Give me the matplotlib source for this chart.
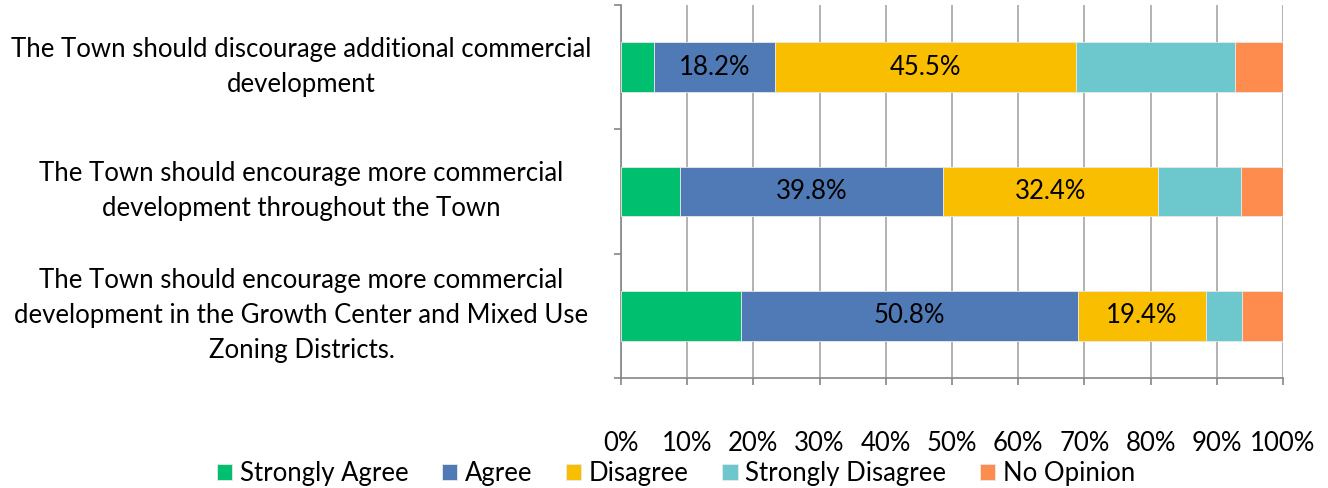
import matplotlib
matplotlib.use("Agg")
import matplotlib.pyplot as plt
from matplotlib.ticker import FixedLocator, PercentFormatter
import numpy as np

plt.rcParams['font.family'] = ['Lato', 'DejaVu Sans']

statements = [
    "The Town should discourage additional commercial\ndevelopment",
    "The Town should encourage more commercial\ndevelopment throughout the Town",
    "The Town should encourage more commercial\ndevelopment in the Growth Center and Mixed Use\nZoning Districts.",
]
series_names = ["Strongly Agree", "Agree", "Disagree", "Strongly Disagree", "No Opinion"]
strongly_agree = [5.0, 8.9, 18.2]
agree = [18.2, 39.8, 50.8]
disagree = [45.5, 32.4, 19.4]
strongly_disagree = [24.1, 12.6, 5.4]
no_opinion = [7.2, 6.3, 6.2]
colors = ["#00BF6F", "#4F7AB5", "#F9BE00", "#6CC8CC", "#FF8C4F"]
labelled = {"Agree", "Disagree"}

values = [strongly_agree, agree, disagree, strongly_disagree, no_opinion]
FS = 18.5

fig = plt.figure(figsize=(13.28, 4.88), dpi=100)
ax = fig.add_axes([0.4676, 0.2254, 0.4985, 0.7644])

y = np.arange(len(statements))
left = np.zeros(len(statements))
for name, vals, col in zip(series_names, values, colors):
    vals = np.array(vals)
    bars = ax.barh(y, vals, left=left, height=0.4, color=col, label=name,
                   edgecolor="#E8E8E8", linewidth=0.6, zorder=3)
    if name in labelled:
        for b, v in zip(bars, vals):
            ax.text(b.get_x() + b.get_width() / 2, b.get_y() + b.get_height() / 2,
                    f"{v:.1f}%", ha="center", va="center", fontsize=FS,
                    color="black", zorder=4)
    left += vals

ax.set_xlim(0, 100)
ax.set_ylim(2.5, -0.5)
ax.xaxis.set_major_locator(FixedLocator(np.arange(0, 101, 10)))
ax.xaxis.set_major_formatter(PercentFormatter(decimals=0))
ax.grid(axis="x", color="#A6A6A6", linewidth=1.2, zorder=0)

ax.set_yticks(y)
ax.set_yticklabels(statements, ha="center", va="center", fontsize=FS, linespacing=1.5)
ax.yaxis.set_minor_locator(FixedLocator([-0.5, 0.5, 1.5, 2.5]))
ax.tick_params(axis="y", which="major", length=0, pad=230)
ax.tick_params(axis="y", which="minor", length=5, width=1.2, color="#868686")
ax.tick_params(axis="x", which="major", length=5, width=1.2, color="#868686",
               labelsize=FS, pad=33)

for side in ("top", "right"):
    ax.spines[side].set_visible(False)
for side in ("left", "bottom"):
    ax.spines[side].set_color("#868686")
    ax.spines[side].set_linewidth(1.2)

leg = fig.legend(loc="center", bbox_to_anchor=(0.509, 0.030), ncol=5, frameon=False,
                 fontsize=FS, handlelength=0.6, handleheight=0.6, handletextpad=0.3,
                 columnspacing=1.3)

fig.savefig("out.png", dpi=100)
